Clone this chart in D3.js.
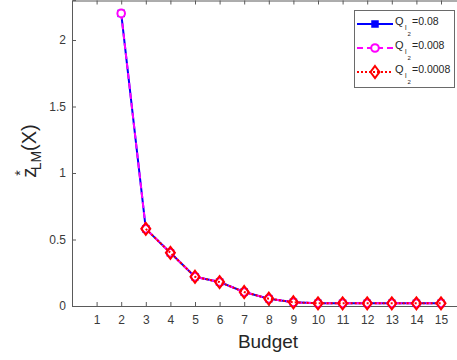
<!DOCTYPE html>
<html><head><meta charset="utf-8">
<script src="https://cdn.jsdelivr.net/npm/d3@7"></script>
<style>body{margin:0;background:#fff;font-family:Arial,"Liberation Sans",sans-serif}</style>
</head><body>
<script>
const budgets = [2,3,4,5,6,7,8,9,10,11,12,13,14,15];
const seriesBlue = [2.2,0.58,0.40,0.22,0.18,0.105,0.055,0.028,0.02,0.02,0.02,0.02,0.02,0.02];
const seriesMagenta = [2.2,0.58,0.40,0.22,0.18,0.105,0.055,0.028,0.02,0.02,0.02,0.02,0.02,0.02];
const redBudgets = [3,4,5,6,7,8,9,10,11,12,13,14,15];
const seriesRed = [0.58,0.40,0.22,0.18,0.105,0.055,0.028,0.02,0.02,0.02,0.02,0.02,0.02];
const xTicks = [1,2,3,4,5,6,7,8,9,10,11,12,13,14,15];
const yTicks = [0,0.5,1,1.5,2];
const legendValues = ["=0.08","=0.008","=0.0008"];

const W=457,H=360;
const svg=d3.select("body").append("svg").attr("width",W).attr("height",H);
const x=d3.scaleLinear().domain([0,16]).range([72,465.6]);
const y=d3.scaleLinear().domain([0,2.3]).range([306,0.1]);
const axCol="#5a5a5a", txtCol="#3a3a3a";

// axes
const gx=svg.append("g").attr("transform","translate(0,306)")
  .call(d3.axisBottom(x).tickValues(xTicks).tickSize(-4).tickPadding(9).tickFormat(d3.format("d")));
const gxt=svg.append("g").attr("transform","translate(0,0.5)")
  .call(d3.axisTop(x).tickValues(xTicks).tickSize(-4).tickFormat(""));
const gy=svg.append("g").attr("transform","translate(72,0)")
  .call(d3.axisLeft(y).tickValues(yTicks).tickSize(-4).tickPadding(6).tickFormat(d=>d));
[gx,gxt,gy].forEach(g=>{
  g.selectAll("path").attr("stroke",axCol);
  g.selectAll("line").attr("stroke",axCol);
  g.selectAll("text").attr("fill",txtCol).style("font-size","12px").style("font-family","Arial,'Liberation Sans',sans-serif");
});

// lines
const line=d3.line().x(d=>x(d[0])).y(d=>y(d[1]));
const blueData=budgets.map((b,i)=>[b,seriesBlue[i]]);
const magData=budgets.map((b,i)=>[b,seriesMagenta[i]]);
const redData=redBudgets.map((b,i)=>[b,seriesRed[i]]);

function drawSquare(g,cx,cy,c){g.append("rect").attr("x",cx-3).attr("y",cy-3).attr("width",6).attr("height",6).attr("fill",c).attr("stroke",c).attr("stroke-width",1.5);}
function drawCircle(g,cx,cy,c){g.append("circle").attr("cx",cx).attr("cy",cy).attr("r",3.8).attr("fill","#fff").attr("stroke",c).attr("stroke-width",2);}
function drawDiamond(g,cx,cy,c){g.append("path").attr("d",`M${cx},${cy-6}L${cx+4.5},${cy}L${cx},${cy+6}L${cx-4.5},${cy}Z`).attr("fill","none").attr("stroke",c).attr("stroke-width",2);}

const plot=svg.append("g");
plot.append("path").attr("d",line(blueData)).attr("fill","none").attr("stroke","#0000ff").attr("stroke-width",2);
blueData.forEach(d=>drawSquare(plot,x(d[0]),y(d[1]),"#0000ff"));
plot.append("path").attr("d",line(magData)).attr("fill","none").attr("stroke","#ff00ff").attr("stroke-width",2).attr("stroke-dasharray","6,4");
magData.forEach(d=>drawCircle(plot,x(d[0]),y(d[1]),"#ff00ff"));
plot.append("path").attr("d",line(redData)).attr("fill","none").attr("stroke","#ff0000").attr("stroke-width",2).attr("stroke-dasharray","2,2");
redData.forEach(d=>drawDiamond(plot,x(d[0]),y(d[1]),"#ff0000"));

// axis labels
svg.append("text").attr("x",268).attr("y",348).attr("text-anchor","middle")
  .style("font-size","19px").attr("fill","#262626").text("Budget");
const yl=svg.append("text").attr("transform","translate(36,151) rotate(-90)").attr("text-anchor","middle")
  .style("font-size","20px").attr("fill","#262626");
yl.append("tspan").text("z");
yl.append("tspan").attr("dy",-11).style("font-size","14px").attr("dx",-8).text("*");
yl.append("tspan").attr("dy",16).style("font-size","14px").attr("dx",0).text("LM");
yl.append("tspan").attr("dy",-5).text("(X)");

// legend
const lg=svg.append("g");
lg.append("rect").attr("x",354.5).attr("y",10.5).attr("width",100).attr("height",77).attr("fill","#fff").attr("stroke","#6a6a6a").attr("stroke-width",1);
const cols=["#0000ff","#ff00ff","#ff0000"], dashes=[null,"6,4","2,2"], ys=[24,48,72];
ys.forEach((yy,i)=>{
  const l=lg.append("line").attr("x1",357).attr("x2",393).attr("y1",yy).attr("y2",yy).attr("stroke",cols[i]).attr("stroke-width",2);
  if(dashes[i]) l.attr("stroke-dasharray",dashes[i]);
  if(i===0) drawSquare(lg,375,yy,cols[i]);
  if(i===1) drawCircle(lg,375,yy,cols[i]);
  if(i===2) drawDiamond(lg,375,yy,cols[i]);
  lg.append("text").attr("x",395).attr("y",yy+1).style("font-size","11px").attr("fill","#262626").text("Q");
  lg.append("text").attr("x",405).attr("y",yy+6).style("font-size","7px").attr("fill","#262626").text("l");
  lg.append("text").attr("x",407.5).attr("y",yy+12).style("font-size","6px").attr("fill","#262626").text("2");
  lg.append("text").attr("x",412).attr("y",yy+1).style("font-size","10.5px").attr("fill","#262626").text(legendValues[i]);
});
</script>
</body></html>
